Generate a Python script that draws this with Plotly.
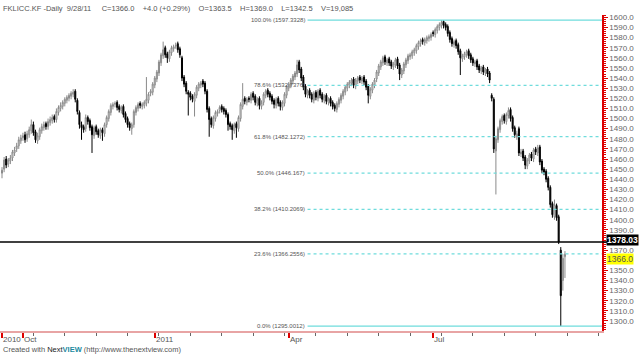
import plotly.graph_objects as go

# ---------------- data ----------------
opens = [1446,1450,1460,1455,1458,1461,1466,1470,1473,1478,
 1481,1484,1480,1484,1488,1494,1487,1478,1482,1488,
 1491,1495,1492,1496,1498,1502,1499,1506,1510,1512,
 1515,1518,1520,1522,1524,1527,1518,1506,1494,1492,
 1490,1501,1498,1492,1483,1492,1488,1483,1489,1485,
 1494,1500,1506,1512,1514,1516,1512,1508,1512,1505,
 1500,1495,1490,1494,1506,1510,1515,1512,1513,1515,
 1518,1525,1526,1533,1539,1545,1555,1562,1570,1564,
 1559,1565,1569,1572,1574,1569,1560,1541,1535,1526,
 1525,1522,1517,1523,1530,1533,1537,1535,1527,1510,
 1500,1493,1500,1505,1508,1512,1510,1508,1504,1495,
 1493,1488,1495,1490,1500,1512,1520,1516,1520,1518,
 1525,1522,1515,1520,1512,1516,1523,1528,1525,1522,
 1518,1513,1520,1516,1511,1515,1523,1530,1533,1537,
 1541,1544,1556,1549,1541,1532,1523,1528,1524,1518,
 1526,1520,1528,1524,1518,1523,1516,1520,1516,1513,
 1509,1514,1518,1522,1526,1530,1533,1535,1539,1532,
 1537,1541,1537,1541,1537,1532,1522,1528,1533,1539,
 1545,1551,1555,1561,1555,1559,1556,1551,1553,1559,
 1553,1543,1547,1553,1557,1561,1562,1565,1567,1571,
 1574,1578,1575,1577,1579,1580,1585,1583,1587,1590,
 1592,1596,1593,1591,1585,1579,1573,1577,1573,1567,
 1559,1561,1563,1567,1563,1559,1554,1557,1552,1547,
 1551,1545,1549,1545,1523,1519,1468,1479,1489,1497,
 1503,1497,1503,1509,1501,1491,1482,1490,1465,1468,
 1462,1453,1458,1465,1460,1470,1466,1472,1458,1450,
 1448,1441,1432,1416,1403,1414,1403,1370,1340,1363.5]

highs = [1452,1462,1463,1461,1464,1469,1472,1476,1482,1484,
 1486,1487,1488,1492,1499,1497,1489,1486,1491,1495,
 1497,1497,1500,1502,1504,1504,1510,1513,1516,1518,
 1521,1523,1525,1527,1529,1529,1520,1508,1497,1494,
 1504,1503,1500,1494,1493,1494,1490,1491,1491,1496,
 1503,1509,1515,1516,1517,1518,1514,1513,1514,1507,
 1502,1497,1496,1509,1513,1516,1517,1516,1518,1541,
 1526,1529,1536,1542,1548,1558,1565,1576,1572,1566,
 1568,1572,1573,1575,1576,1571,1562,1543,1537,1528,
 1527,1524,1526,1533,1536,1537,1539,1537,1529,1512,
 1502,1503,1508,1509,1513,1514,1512,1510,1506,1497,
 1495,1496,1497,1503,1516,1535,1522,1521,1522,1526,
 1527,1524,1521,1522,1518,1526,1529,1530,1527,1524,
 1520,1521,1522,1518,1518,1526,1533,1536,1540,1544,
 1547,1558,1558,1551,1543,1534,1529,1530,1526,1527,
 1528,1529,1530,1526,1524,1525,1521,1522,1518,1515,
 1517,1521,1525,1529,1533,1536,1538,1540,1541,1540,
 1542,1543,1542,1543,1539,1534,1531,1536,1540,1548,
 1554,1558,1562,1563,1560,1561,1558,1556,1560,1561,
 1555,1550,1556,1560,1564,1565,1568,1570,1574,1577,
 1579,1580,1580,1582,1583,1585,1587,1590,1593,1595,
 1597.3,1597,1595,1593,1587,1581,1578,1579,1575,1569,
 1564,1566,1568,1569,1565,1561,1558,1559,1554,1552,
 1553,1550,1551,1547,1525,1521,1483,1492,1500,1504,
 1505,1506,1511,1511,1503,1493,1488,1492,1470,1470,
 1464,1461,1466,1467,1471,1472,1474,1474,1460,1452,
 1450,1443,1434,1418,1420,1416,1405,1373,1366,1369]

lows = [1441,1447,1451,1452,1455,1458,1463,1467,1470,1475,
 1478,1476,1477,1481,1485,1483,1476,1475,1479,1485,
 1488,1489,1489,1493,1495,1496,1496,1503,1507,1509,
 1512,1515,1517,1519,1521,1516,1504,1490,1479,1486,
 1487,1494,1488,1466,1480,1484,1481,1480,1478,1482,
 1491,1497,1503,1509,1511,1508,1506,1505,1501,1496,
 1491,1488,1484,1491,1503,1507,1510,1509,1510,1512,
 1515,1522,1523,1530,1536,1542,1552,1559,1560,1555,
 1556,1562,1566,1569,1565,1560,1537,1531,1524,1503,
 1518,1516,1502,1520,1527,1530,1531,1524,1506,1482,
 1491,1490,1497,1502,1505,1506,1504,1501,1488,1489,
 1479,1485,1481,1487,1497,1509,1514,1513,1516,1515,
 1518,1513,1512,1509,1509,1513,1520,1521,1518,1514,
 1510,1510,1512,1508,1508,1512,1520,1527,1530,1534,
 1538,1541,1545,1537,1528,1521,1520,1520,1516,1515,
 1518,1517,1520,1516,1515,1514,1513,1512,1509,1507,
 1506,1511,1515,1519,1523,1527,1530,1532,1530,1529,
 1534,1535,1534,1533,1528,1515,1519,1525,1530,1536,
 1542,1548,1552,1553,1552,1552,1549,1548,1550,1549,
 1538,1540,1544,1550,1554,1558,1559,1562,1564,1568,
 1571,1573,1572,1574,1576,1577,1581,1580,1584,1587,
 1589,1589,1587,1581,1575,1571,1570,1569,1563,1543,
 1556,1558,1560,1559,1555,1552,1551,1548,1545,1544,
 1543,1542,1541,1535,1517,1466,1425,1476,1486,1494,
 1495,1494,1500,1497,1487,1481,1479,1463,1462,1458,
 1450,1450,1455,1458,1457,1464,1463,1454,1446,1444,
 1437,1429,1412,1402,1400,1399,1376,1295,1330,1342.5]

closes = [1449,1459,1454,1459,1461,1467,1469,1473,1479,1481,
 1483,1479,1485,1489,1494,1486,1479,1483,1489,1492,
 1494,1492,1497,1499,1501,1499,1507,1511,1513,1516,
 1519,1521,1523,1525,1526,1519,1507,1494,1491,1489,
 1501,1497,1491,1484,1491,1487,1484,1489,1486,1494,
 1501,1507,1513,1514,1515,1511,1509,1511,1504,1499,
 1494,1491,1494,1507,1511,1514,1513,1514,1516,1519,
 1524,1527,1534,1540,1546,1556,1563,1568,1563,1560,
 1566,1570,1571,1572,1568,1563,1540,1534,1527,1524,
 1521,1519,1524,1531,1534,1535,1534,1527,1509,1499,
 1494,1501,1506,1507,1511,1509,1507,1504,1494,1492,
 1489,1494,1491,1501,1514,1519,1517,1519,1519,1524,
 1521,1516,1519,1513,1516,1524,1527,1524,1521,1517,
 1514,1519,1515,1512,1516,1524,1531,1534,1538,1542,
 1545,1553,1548,1540,1531,1524,1527,1523,1519,1525,
 1521,1527,1523,1519,1522,1517,1519,1515,1512,1510,
 1515,1519,1523,1527,1531,1534,1536,1538,1533,1538,
 1540,1538,1540,1536,1531,1523,1529,1534,1538,1546,
 1552,1556,1560,1556,1558,1555,1552,1554,1558,1552,
 1544,1548,1554,1558,1562,1563,1566,1568,1572,1575,
 1577,1576,1578,1580,1581,1583,1584,1588,1591,1593,
 1595,1592,1590,1584,1578,1574,1576,1572,1566,1560,
 1562,1564,1566,1562,1558,1555,1556,1551,1548,1550,
 1546,1548,1544,1538,1520,1470,1480,1490,1498,1502,
 1498,1504,1508,1500,1490,1484,1485,1466,1467,1461,
 1454,1459,1464,1461,1469,1467,1471,1457,1449,1447,
 1440,1432,1415,1405,1415,1402,1378,1325,1362,1366]

assert len(opens) == len(highs) == len(lows) == len(closes)

# x tick marks (trading-day index) and their labels
tick_days = [0, 10, 73, 137, 206]
tick_labels = ["2010", "Oct", "2011", "Apr", "Jul"]

# Fibonacci retracement levels
fib_pcts = ["100.0%", "78.6%", "61.8%", "50.0%", "38.2%", "23.6%", "0.0%"]
fib_vals = [1597.3328, 1532.7376, 1482.1272, 1446.167, 1410.2069, 1366.2556, 1295.0012]
fib_start_day = 146

hline_val = 1378.03
hline_label = "1378.03"
last_label = "1366.0"
last_val = 1366.0

header = ("FKLICC.KF -Daily&nbsp;&nbsp;9/28/11&nbsp;&nbsp;&nbsp;&nbsp;&nbsp;C=1366.0&nbsp;&nbsp;&nbsp;&nbsp;"
          "+4.0 (+0.29%)&nbsp;&nbsp;&nbsp;&nbsp;O=1363.5&nbsp;&nbsp;&nbsp;&nbsp;H=1369.0&nbsp;&nbsp;&nbsp;&nbsp;"
          "L=1342.5&nbsp;&nbsp;&nbsp;&nbsp;V=19,085")

# ---------------- figure ----------------
N = len(closes)
days = list(range(N))
x_min, x_max = -0.96, 286.7
y_min, y_max = 1290.1, 1602.3

FONT = "Liberation Sans"
CYAN = "#6fdcdc"

fig = go.Figure()

fig.add_trace(go.Candlestick(
    x=days, open=opens, high=highs, low=lows, close=closes,
    increasing=dict(line=dict(color="#8a8a8a", width=1), fillcolor="white"),
    decreasing=dict(line=dict(color="#000000", width=1), fillcolor="#000000"),
    whiskerwidth=0, showlegend=False, hoverinfo="skip",
))

annotations = []
for i, (p, v) in enumerate(zip(fib_pcts, fib_vals)):
    dash = "solid" if i in (0, len(fib_vals) - 1) else "dot"
    fig.add_trace(go.Scatter(
        x=[fib_start_day, x_max], y=[v, v], mode="lines",
        line=dict(color=CYAN, width=1.2, dash=dash),
        showlegend=False, hoverinfo="skip",
    ))
    annotations.append(dict(
        x=fib_start_day, y=v, xref="x", yref="y", xanchor="right", yanchor="middle",
        text=f"{p} ({v})", showarrow=False, xshift=-1,
        font=dict(family=FONT, size=6, color="#555555"),
    ))

# tick labels on the time axis
for d, lab in zip(tick_days, tick_labels):
    annotations.append(dict(
        x=d, y=0, xref="x", yref="paper", xanchor="left", yanchor="top",
        text=lab, showarrow=False, xshift=-1, yshift=-2,
        font=dict(family=FONT, size=8, color="#555555"),
    ))

# header line
annotations.append(dict(
    x=0, y=1, xref="paper", yref="paper", xanchor="left", yanchor="bottom",
    text=header, showarrow=False, xshift=1, yshift=0,
    font=dict(family=FONT, size=7.5, color="#555555"),
))

# footer
annotations.append(dict(
    x=0, y=0, xref="paper", yref="paper", xanchor="left", yanchor="top",
    text=("Created with <span style='color:#222222'>Next</span>"
          "<span style='color:#1b8aa0'><b>VIEW</b></span> (http://www.thenextview.com)"),
    showarrow=False, xshift=1, yshift=-12,
    font=dict(family=FONT, size=7.5, color="#555555"),
))

# price boxes on the right axis
annotations.append(dict(
    x=1, y=hline_val, xref="paper", yref="y", xanchor="left", yanchor="middle",
    text=f"<b>{hline_label}</b>", showarrow=False, xshift=4, yshift=2,
    bgcolor="#000000", borderpad=0,
    font=dict(family=FONT, size=8.5, color="#ffffff"),
))
annotations.append(dict(
    x=1, y=last_val, xref="paper", yref="y", xanchor="left", yanchor="middle",
    text=last_label, showarrow=False, xshift=4, yshift=-5,
    bgcolor="#ffff00", borderpad=0,
    font=dict(family=FONT, size=8.5, color="#555555"),
))

shapes = [dict(type="line", xref="paper", yref="y", x0=0, x1=1.02,
               y0=hline_val, y1=hline_val, line=dict(color="#000000", width=1.5))]

ytick_vals = [v for v in range(1300, 1601, 10) if v not in (1360, 1380)]

fig.update_layout(
    width=640, height=355,
    margin=dict(l=0, r=38, t=15, b=24),
    paper_bgcolor="white", plot_bgcolor="white",
    font=dict(family=FONT, size=9, color="#555555"),
    annotations=annotations, shapes=shapes,
    xaxis=dict(
        range=[x_min, x_max], rangeslider=dict(visible=False),
        showgrid=False, zeroline=False,
        showline=True, linecolor="#e8a4a4", linewidth=2,
        tickmode="array", tickvals=tick_days, ticktext=[""] * len(tick_days),
        ticks="outside", ticklen=5, tickcolor="#dd0000", tickwidth=2,
        minor=dict(tickmode="linear", tick0=0, dtick=15, ticks="outside",
                   ticklen=3, tickcolor="#666666", tickwidth=1),
    ),
    yaxis=dict(
        side="right", range=[y_min, y_max],
        showgrid=False, zeroline=False,
        showline=True, linecolor="#dd0000", linewidth=1.5,
        tickmode="array", tickvals=ytick_vals,
        ticktext=[f"{v:.1f}" for v in ytick_vals],
        ticks="outside", ticklen=4, tickcolor="#dd0000", tickwidth=1,
        tickfont=dict(family=FONT, size=8, color="#666666"),
        minor=dict(tickmode="linear", tick0=1300, dtick=2, ticks="outside",
                   ticklen=2, tickcolor="#dd0000", tickwidth=1),
    ),
)

fig.write_html(
    "out.html",
    config={"displayModeBar": False},
    post_script="document.body.style.margin='0';document.body.style.padding='0';",
)
